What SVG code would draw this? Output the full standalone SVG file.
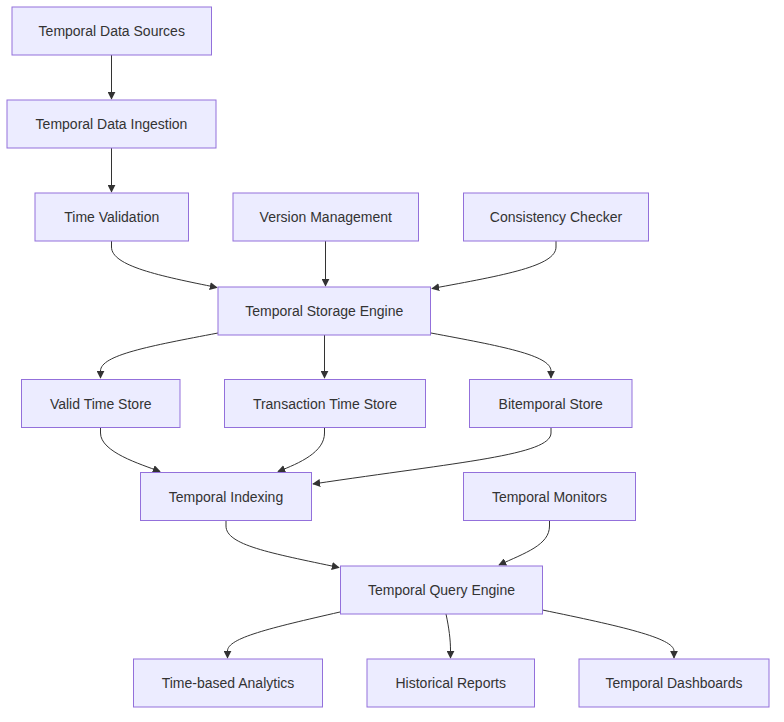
<svg xmlns="http://www.w3.org/2000/svg" width="784" height="722" viewBox="0 0 784 722">
<style>
.node rect{fill:#ECECFF;stroke:#9370DB;stroke-width:1}
.node text{font-family:"Liberation Sans",Arial,sans-serif;font-size:14px;fill:#333;text-anchor:middle;dominant-baseline:central}
.edge{fill:none;stroke:#333;stroke-width:1}
</style>
<defs>
<marker id="arrow" viewBox="0 0 10 10" refX="9" refY="5" markerWidth="8" markerHeight="8" markerUnits="userSpaceOnUse" orient="auto">
<path d="M0,0 L10,5 L0,10 z" fill="#333"/>
</marker>
</defs>
<rect width="784" height="722" fill="#fff"/>
<g id="connectors">
<path class="edge" marker-end="url(#arrow)" d="M111.5,55 V99"/>
<path class="edge" marker-end="url(#arrow)" d="M111.5,148 V192"/>
<path class="edge" marker-end="url(#arrow)" d="M111.5,241 V247 C111.5,266 160,276 217,287.5"/>
<path class="edge" marker-end="url(#arrow)" d="M325.5,241 V286"/>
<path class="edge" marker-end="url(#arrow)" d="M556,241 V247 C556,266 505,275 432,288.5"/>
<path class="edge" marker-end="url(#arrow)" d="M218,333 C150,346 100.5,355 100.5,371 V378"/>
<path class="edge" marker-end="url(#arrow)" d="M324.5,335 V378"/>
<path class="edge" marker-end="url(#arrow)" d="M431,333 C500,346 551,355 551,371 V378"/>
<path class="edge" marker-end="url(#arrow)" d="M100.5,428 V433 C100.5,452 140,464 160,471.5"/>
<path class="edge" marker-end="url(#arrow)" d="M324.5,428 V433 C324.5,452 300,463 278,471.5"/>
<path class="edge" marker-end="url(#arrow)" d="M551,428 V433 C551,455 460,462 313,484"/>
<path class="edge" marker-end="url(#arrow)" d="M226,521 V526 C226,545 270,553 339,567.5"/>
<path class="edge" marker-end="url(#arrow)" d="M549.5,521 V526 C549.5,545 525,553 499,565"/>
<path class="edge" marker-end="url(#arrow)" d="M340,612 C270,628 227.5,638 227.5,651 V658"/>
<path class="edge" marker-end="url(#arrow)" d="M446,614 C449,628 450.5,640 450.5,650 V658"/>
<path class="edge" marker-end="url(#arrow)" d="M542.5,610 C620,626 674,638 674,651 V658"/>
</g>
<g id="n1" class="node"><rect x="12" y="7" width="199.5" height="48"/><text x="111.75" y="31">Temporal Data Sources</text></g>
<g id="n2" class="node"><rect x="7" y="100" width="209" height="48"/><text x="111.5" y="124">Temporal Data Ingestion</text></g>
<g id="n3" class="node"><rect x="35" y="193" width="153.5" height="48"/><text x="111.75" y="217">Time Validation</text></g>
<g id="n4" class="node"><rect x="233" y="193" width="185.5" height="48"/><text x="325.75" y="217">Version Management</text></g>
<g id="n5" class="node"><rect x="463.5" y="193" width="185" height="48"/><text x="556" y="217">Consistency Checker</text></g>
<g id="n6" class="node"><rect x="218" y="287" width="212.5" height="48"/><text x="324.25" y="311">Temporal Storage Engine</text></g>
<g id="n7" class="node"><rect x="21.5" y="379.5" width="158.5" height="48"/><text x="100.75" y="403.5">Valid Time Store</text></g>
<g id="n8" class="node"><rect x="224.5" y="379.5" width="201" height="48"/><text x="325" y="403.5">Transaction Time Store</text></g>
<g id="n9" class="node"><rect x="469.5" y="379.5" width="162.5" height="48"/><text x="550.75" y="403.5">Bitemporal Store</text></g>
<g id="n10" class="node"><rect x="140.5" y="472.5" width="171" height="48"/><text x="226" y="496.5">Temporal Indexing</text></g>
<g id="n11" class="node"><rect x="463.5" y="472.5" width="172" height="48"/><text x="549.5" y="496.5">Temporal Monitors</text></g>
<g id="n12" class="node"><rect x="340.5" y="566" width="202" height="48"/><text x="441.5" y="590">Temporal Query Engine</text></g>
<g id="n13" class="node"><rect x="133.5" y="659" width="189" height="48"/><text x="228" y="683">Time-based Analytics</text></g>
<g id="n14" class="node"><rect x="367" y="659" width="167.5" height="48"/><text x="450.75" y="683">Historical Reports</text></g>
<g id="n15" class="node"><rect x="579" y="659" width="190" height="48"/><text x="674" y="683">Temporal Dashboards</text></g>
</svg>
